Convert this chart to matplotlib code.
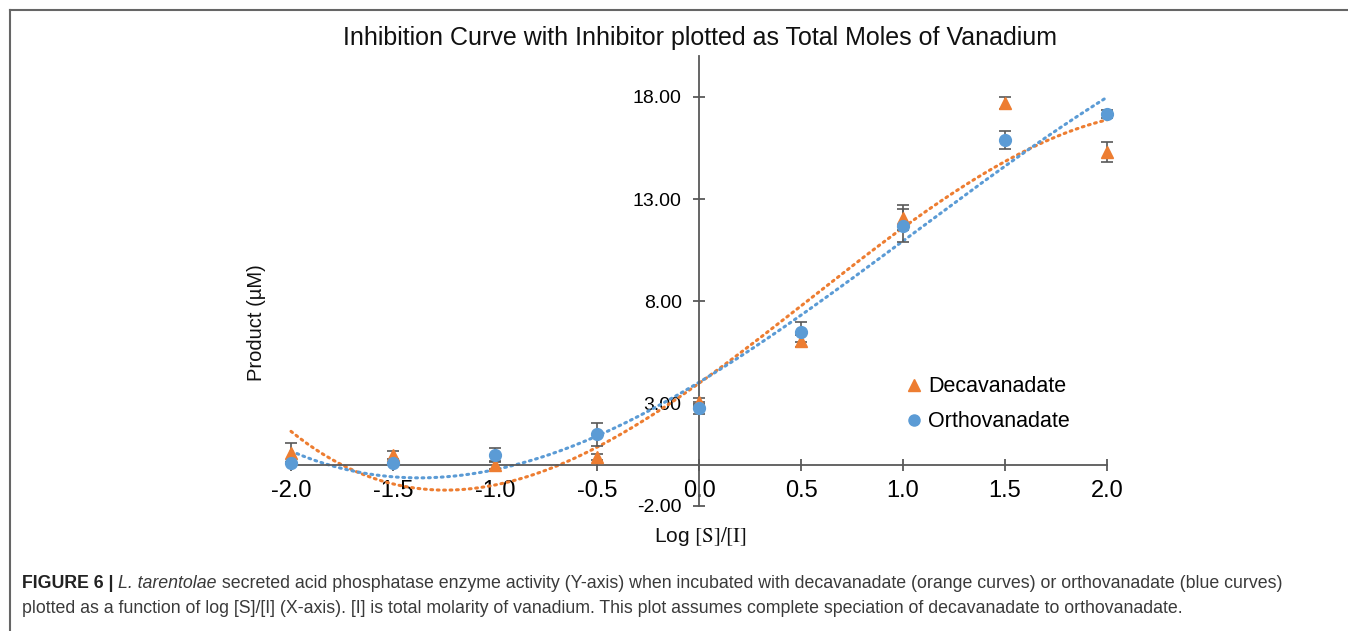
import numpy as np
import matplotlib
matplotlib.use("Agg")
import matplotlib.pyplot as plt
from matplotlib.lines import Line2D

plt.rcParams['font.family'] = ['Liberation Sans', 'DejaVu Sans']
plt.rcParams['mathtext.fontset'] = 'stix'

# data
log_ratio = [-2.0, -1.5, -1.0, -0.5, 0.0, 0.5, 1.0, 1.5, 2.0]
deca = [0.6, 0.49, 0.0, 0.4, 3.1, 6.05, 12.1, 17.7, 15.3]
deca_err = [0.5, 0.2, 0.2, 0.15, 0.2, 0.3, 0.6, 0.3, 0.5]
ortho = [0.1, 0.1, 0.49, 1.5, 2.8, 6.5, 11.7, 15.9, 17.15]
ortho_err = [0.05, 0.05, 0.35, 0.55, 0.3, 0.5, 0.8, 0.45, 0.2]
xticks = [-2.0, -1.5, -1.0, -0.5, 0.0, 0.5, 1.0, 1.5, 2.0]
yticks = [-2, 3, 8, 13, 18]

orange = '#ED7D31'
blue = '#5B9BD5'
gray = '#595959'

W, H = 1348, 631
fig = plt.figure(figsize=(W / 100, H / 100), dpi=100)

def fx(px):
    return px / W

def fy(py):
    return 1 - py / H

ax = fig.add_axes([fx(291), fy(506), fx(1107 - 291), (506 - 56) / H])
ax.set_xlim(-2, 2)
ax.set_ylim(-2, 20)

for s in ['top', 'right']:
    ax.spines[s].set_visible(False)
ax.spines['left'].set_position(('data', 0))
ax.spines['bottom'].set_position(('data', 0))
for s in ['left', 'bottom']:
    ax.spines[s].set_color(gray)
    ax.spines[s].set_linewidth(1.3)

ax.set_xticks(xticks)
ax.set_xticklabels(['%.1f' % v for v in xticks])
ax.set_yticks(yticks)
ax.set_yticklabels(['%.2f' % v for v in yticks])
ax.tick_params(axis='both', direction='inout', length=9, width=1.3, color=gray)
ax.tick_params(axis='x', labelsize=17, pad=6)
ax.tick_params(axis='y', labelsize=14, pad=8)

# polynomial trendlines (order 3), as in the spreadsheet
xs = np.linspace(-2, 2, 300)
pd_ = np.polyfit(log_ratio, deca, 3)
po_ = np.polyfit(log_ratio, ortho, 3)
ax.plot(xs, np.polyval(pd_, xs), color=orange, lw=2.2, ls=(0, (0.6, 1.5)),
        dash_capstyle='round', clip_on=False, zorder=2)
ax.plot(xs, np.polyval(po_, xs), color=blue, lw=2.2, ls=(0, (0.6, 1.5)),
        dash_capstyle='round', clip_on=False, zorder=2)

ax.errorbar(log_ratio, deca, yerr=deca_err, fmt='none', ecolor=gray,
            elinewidth=1.2, capsize=4, capthick=1.2, clip_on=False, zorder=3)
ax.errorbar(log_ratio, ortho, yerr=ortho_err, fmt='none', ecolor=gray,
            elinewidth=1.2, capsize=4, capthick=1.2, clip_on=False, zorder=3)
ax.plot(log_ratio, deca, ls='none', marker='^', ms=9, color=orange,
        clip_on=False, zorder=4)
ax.plot(log_ratio, ortho, ls='none', marker='o', ms=8.5, color=blue,
        clip_on=False, zorder=4)

handles = [Line2D([], [], ls='none', marker='^', ms=8, color=orange),
           Line2D([], [], ls='none', marker='o', ms=8, color=blue)]
fig.legend(handles, ['Decavanadate', 'Orthovanadate'], loc='upper left',
           bbox_to_anchor=(fx(888), fy(357)), frameon=False, fontsize=15.5,
           handlelength=0.6, handletextpad=0.35, labelspacing=0.65)

fig.text(fx(700), fy(38), 'Inhibition Curve with Inhibitor plotted as Total Moles of Vanadium',
         ha='center', va='center', fontsize=18, color='#111111')
fig.text(fx(256), fy(323), 'Product (µM)', rotation=90, ha='center', va='center',
         fontsize=14.5, color='#111111')
fig.text(fx(700), fy(536), r'Log $\mathrm{[S]/[I]}$', ha='center', va='center',
         fontsize=15, color='#111111')

# outer frame (only top and left edges visible)
fig.add_artist(Line2D([fx(10), 1], [fy(10), fy(10)], color='#666666', lw=1.5))
fig.add_artist(Line2D([fx(10), fx(10)], [fy(10), 0], color='#666666', lw=1.5))

# caption with mixed styles
cap_font = ['Liberation Sans Narrow', 'Liberation Sans', 'DejaVu Sans']
cap_size = 12.8
cap_col = '#3a3a3a'
line1 = [('FIGURE 6 | ', 'bold', 'normal', '#222222'),
         ('L. tarentolae', 'normal', 'italic', cap_col),
         (' secreted acid phosphatase enzyme activity (Y-axis) when incubated with '
          'decavanadate (orange curves) or orthovanadate (blue curves)', 'normal', 'normal', cap_col)]
line2 = [('plotted as a function of log [S]/[I] (X-axis). [I] is total molarity of vanadium. '
          'This plot assumes complete speciation of decavanadate to orthovanadate.',
          'normal', 'normal', cap_col)]

renderer = fig.canvas.get_renderer()
for pieces, base in [(line1, 588), (line2, 613)]:
    x = 22
    for txt, wt, st, col in pieces:
        t = fig.text(fx(x), fy(base), txt, ha='left', va='baseline', fontsize=cap_size,
                     family=cap_font, weight=wt, style=st, color=col)
        bb = t.get_window_extent(renderer=renderer)
        x += bb.width

fig.savefig('out.png', dpi=100)
